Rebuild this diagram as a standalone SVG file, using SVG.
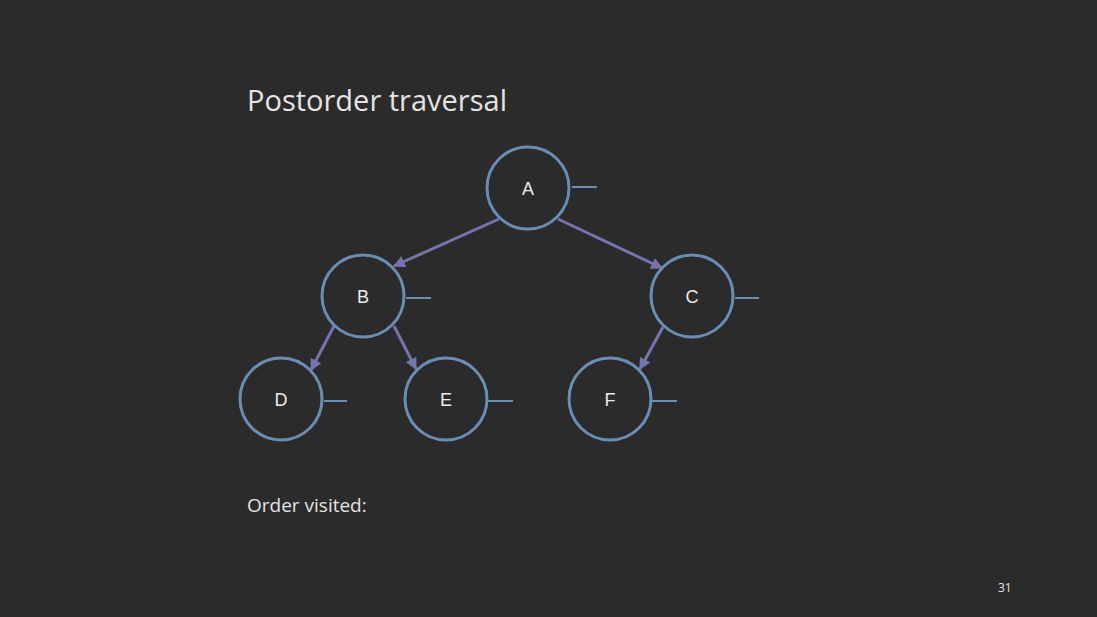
<svg xmlns="http://www.w3.org/2000/svg" width="1097" height="617" viewBox="0 0 1097 617">
<defs>
<marker id="ah" viewBox="0 0 10 10" refX="9" refY="5" markerWidth="4" markerHeight="4" orient="auto" markerUnits="strokeWidth">
<path d="M0,0 L10,5 L0,10 z" fill="#7474AE"/>
</marker>
<style>
.node circle{fill:none;stroke:#6A8DB3;stroke-width:3}
.node line{stroke:#6A8DB3;stroke-width:2}
.node text{font-family:"Liberation Sans",Arial,sans-serif;font-size:18px;fill:#ECECEC;text-anchor:middle}
.edge{stroke:#7474AE;stroke-width:3;marker-end:url(#ah)}
.lbl{font-family:"Open Sans","Liberation Sans",sans-serif;fill:#E4E4E4}
</style>
</defs>
<rect width="1097" height="617" fill="#2B2B2B"/>
<text class="lbl" x="247" y="111" font-size="29" textLength="260" lengthAdjust="spacingAndGlyphs">Postorder traversal</text>
<text class="lbl" x="247" y="512" font-size="19">Order visited:</text>
<text class="lbl" x="998" y="592" font-size="12" fill="#CFCFCF">31</text>
<g id="connectors">
<line class="edge" x1="499" y1="219" x2="394" y2="266"/>
<line class="edge" x1="558" y1="219" x2="662" y2="268"/>
<line class="edge" x1="334" y1="326" x2="311" y2="370"/>
<line class="edge" x1="394" y1="326" x2="416" y2="369"/>
<line class="edge" x1="663" y1="327" x2="640" y2="369"/>
</g>
<g id="node-A" class="node"><circle cx="528" cy="188" r="41"/><line x1="572" y1="187" x2="597" y2="187"/><text x="528" y="195">A</text></g>
<g id="node-B" class="node"><circle cx="363" cy="296" r="41"/><line x1="406" y1="298" x2="431" y2="298"/><text x="363" y="303">B</text></g>
<g id="node-C" class="node"><circle cx="692" cy="296" r="41"/><line x1="735" y1="298" x2="759" y2="298"/><text x="692" y="303">C</text></g>
<g id="node-D" class="node"><circle cx="281" cy="399" r="41"/><line x1="324" y1="401" x2="347" y2="401"/><text x="281" y="406">D</text></g>
<g id="node-E" class="node"><circle cx="446" cy="399" r="41"/><line x1="488" y1="401" x2="513" y2="401"/><text x="446" y="406">E</text></g>
<g id="node-F" class="node"><circle cx="610" cy="399" r="41"/><line x1="652" y1="401" x2="677" y2="401"/><text x="610" y="406">F</text></g>
</svg>
